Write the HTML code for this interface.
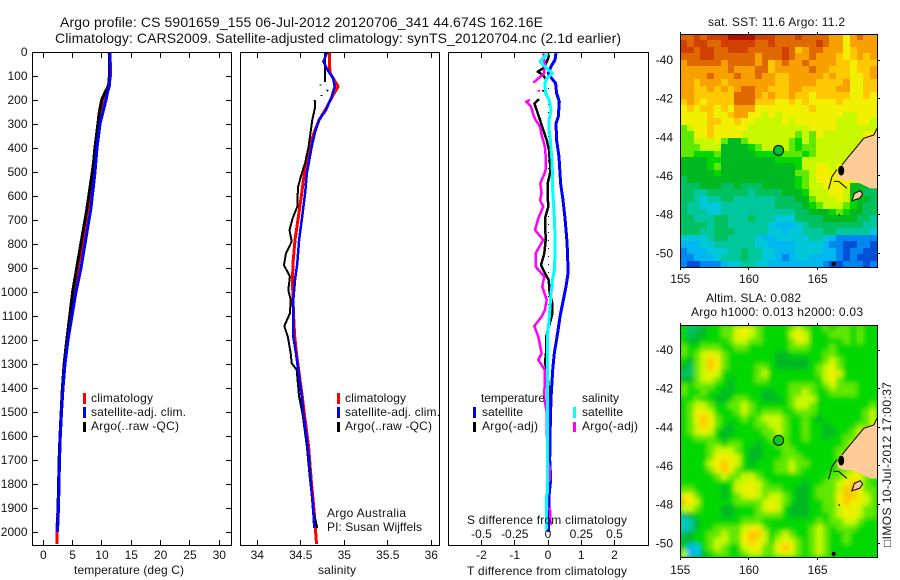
<!DOCTYPE html>
<html lang="en">
<head>
<meta charset="utf-8">
<title>Argo profile chart</title>
<style>
html,body{margin:0;padding:0;background:#fff;}
svg{display:block;font-family:"Liberation Sans",sans-serif;font-size:12px;fill:#000;}
text{fill:#111;}
</style>
</head>
<body>
<svg id="chart" xmlns="http://www.w3.org/2000/svg" width="900" height="580" viewBox="0 0 900 580">
  <defs>
    <filter id="soften" x="0" y="0" width="1" height="1"><feGaussianBlur stdDeviation="2.4"/></filter>
  </defs>
  <rect width="900" height="580" fill="#fff"/>
  <g id="heat" shape-rendering="crispEdges"></g>
  <rect x="680" y="325" width="197" height="232" fill="#00d800"/>
  <g id="heat2" shape-rendering="crispEdges" filter="url(#soften)"></g>
  <g id="geo"></g>
  <g id="marks" shape-rendering="crispEdges" fill="none"></g>
  <g id="frames" shape-rendering="crispEdges"></g>

  <text x="60" y="27" font-size="14" textLength="483" lengthAdjust="spacing">Argo profile: CS 5901659_155 06-Jul-2012 20120706_341 44.674S 162.16E</text>
  <text x="55" y="43" font-size="14" textLength="566" lengthAdjust="spacing">Climatology: CARS2009. Satellite-adjusted climatology: synTS_20120704.nc (2.1d earlier)</text>

  <text x="74" y="574" textLength="110" lengthAdjust="spacing">temperature (deg C)</text>
  <text x="318" y="574" textLength="38" lengthAdjust="spacing">salinity</text>
  <text x="467" y="575" textLength="160" lengthAdjust="spacing">T difference from climatology</text>
  <text x="467" y="524" textLength="160" lengthAdjust="spacing">S difference from climatology</text>

  <g shape-rendering="crispEdges">
    <rect x="83" y="393" width="3" height="11" fill="#f00"/>
    <rect x="83" y="407" width="3" height="11" fill="#00f"/>
    <rect x="83" y="422" width="3" height="10" fill="#000"/>
    <text x="91" y="402" textLength="62" lengthAdjust="spacing">climatology</text>
    <text x="91" y="416" textLength="95" lengthAdjust="spacing">satellite-adj. clim.</text>
    <text x="91" y="430" textLength="88" lengthAdjust="spacing">Argo(..raw -QC)</text>
  </g>
  <g shape-rendering="crispEdges">
    <rect x="337" y="393" width="3" height="11" fill="#f00"/>
    <rect x="337" y="407" width="3" height="11" fill="#00f"/>
    <rect x="337" y="422" width="3" height="10" fill="#000"/>
    <text x="345" y="402" textLength="61" lengthAdjust="spacing">climatology</text>
    <text x="345" y="416" textLength="95" lengthAdjust="spacing">satellite-adj. clim.</text>
    <text x="345" y="430" textLength="87" lengthAdjust="spacing">Argo(..raw -QC)</text>
  </g>
  <text x="327" y="517" textLength="79" lengthAdjust="spacing">Argo Australia</text>
  <text x="327" y="531" textLength="95" lengthAdjust="spacing">PI: Susan Wijffels</text>

  <g shape-rendering="crispEdges">
    <text x="481" y="402" textLength="64" lengthAdjust="spacing">temperature</text>
    <text x="582" y="402" textLength="37" lengthAdjust="spacing">salinity</text>
    <rect x="473" y="407" width="3" height="11" fill="#00f"/>
    <rect x="473" y="422" width="3" height="10" fill="#000"/>
    <rect x="573" y="407" width="3" height="11" fill="#0ff"/>
    <rect x="573" y="422" width="3" height="10" fill="#f0f"/>
    <text x="482" y="416" textLength="41" lengthAdjust="spacing">satellite</text>
    <text x="482" y="430" textLength="56" lengthAdjust="spacing">Argo(-adj)</text>
    <text x="582" y="416" textLength="41" lengthAdjust="spacing">satellite</text>
    <text x="582" y="430" textLength="56" lengthAdjust="spacing">Argo(-adj)</text>
  </g>

  <text x="708" y="26" textLength="137" lengthAdjust="spacing">sat. SST: 11.6 Argo: 11.2</text>
  <text x="706" y="302" textLength="95" lengthAdjust="spacing">Altim. SLA: 0.082</text>
  <text x="691" y="316" textLength="172" lengthAdjust="spacing">Argo h1000: 0.013 h2000: 0.03</text>
  <text transform="translate(891,547) rotate(-90)" x="0" y="0" textLength="165" lengthAdjust="spacing">□IMOS 10-Jul-2012 17:00:37</text>
</svg>

<script>
/* ---------- temperature panel data ---------- */
const tempDepths = [0,50,100,140,160,180,200,250,300,350,400,450,500,550,600,650,700,800,900,1000,1100,1200,1300,1400,1500,1600,1700,1800,1900,2000,2050];
const tempClim = [11.2,11.45,11.45,11.05,10.75,10.5,10.2,9.75,9.4,9.2,8.85,8.7,8.45,8.15,7.9,7.6,7.3,6.6,5.9,5.2,4.6,4.1,3.65,3.35,3.1,2.9,2.75,2.65,2.5,2.3,2.3];
const tempArgo = [11.25,11.25,11.25,11.2,10.7,10.3,9.95,9.55,9.3,9.05,8.8,8.6,8.35,8.05,7.75,7.45,7.1,6.4,5.7,5.0,4.5,4.0,3.55,3.25,3.05,2.85,2.7,2.6,2.5,2.4];
const tempSat = [11.37,11.37,11.37,11.28,11.03,10.86,10.69,10.18,9.66,9.41,9.15,8.98,8.81,8.59,8.35,8.13,7.79,7.11,6.43,5.57,4.89,4.21,3.70,3.36,3.10,2.90,2.76,2.68,2.59,2.42];

/* ---------- salinity panel data ---------- */
const salClimDepths = [0,60,90,120,144,180,242,283,339,394,505,589,692,783,880,950,1033,1117,1186,1256,1325,1436,1506,1645,1783,1921,2050];
const salClim = [34.83,34.83,34.84,34.89,34.93,34.87,34.78,34.71,34.65,34.6,34.54,34.51,34.47,34.433,34.41,34.405,34.41,34.42,34.43,34.45,34.476,34.517,34.54,34.59,34.62,34.655,34.68];
const salArgoDepths = [0,124,124,135,140,140,158,163,163,179,184,184,200,228,283,339,394,463,519,561,617,644,692,742,790,838,888,936,992,1033,1089,1142,1186,1256,1297,1325,1436,1506,1645,1783,1921,1983];
const salArgo = [34.78,34.78,null,34.729,34.729,null,34.81,34.80,null,34.74,34.74,null,34.66,34.665,34.632,34.61,34.59,34.55,34.5,34.47,34.46,34.46,34.407,34.37,34.395,34.33,34.307,34.375,34.356,34.384,34.375,34.31,34.35,34.384,34.395,34.453,34.48,34.52,34.57,34.606,34.65,34.69];
const salSatDepths = [0,40,82,108,144,186,242,283,339,394,505,589,692,783,880,950,1033,1117,1186,1256,1325,1436,1506,1645,1783,1921,1983];
const salSat = [34.805,34.76,34.82,34.87,34.89,34.855,34.79,34.71,34.66,34.625,34.57,34.55,34.514,34.48,34.46,34.433,34.414,34.41,34.414,34.445,34.47,34.51,34.53,34.58,34.614,34.645,34.655];

/* ---------- difference panel data ---------- */
const diffTSatDepths = [5,33,61,89,110,130,172,207,269,297,367,436,547,617,693,769,839,922,978,1033,1103,1172,1256,1325,1443,1550,1700,1780,1850,2000];
const diffTSat = [.24,.21,.09,.01,.11,.23,.26,.34,.31,.24,.26,.33,.38,.45,.51,.56,.59,.60,.54,.46,.36,.29,.19,.14,.09,.07,.05,.08,.03,.02];
const diffTArgoDepths = [5,26,47,68,82,96,117,117,158,165,165,197,214,242,283,325,367,408,464,506,547,603,644,693,783,839,888,922,950,1006,1047,1089,1117,1151,1186,1256,1297,1325,1443,1550,1850,1990];
const diffTArgo = [.03,.01,-.06,-.14,-.31,-.16,-.04,null,-.14,-.14,null,-.27,-.41,-.34,-.24,-.14,-.04,.03,.06,.06,-.01,-.01,.01,-.09,-.07,-.11,-.21,-.09,.02,.05,.13,.13,.08,.01,-.05,-.06,-.09,-.03,.05,.02,.01,0];
const diffSSatDepths = [5,19,40,61,89,110,130,172,200,242,283,325,367,436,506,575,693,769,839,908,950,1006,1061,1117,1186,1256,1325,1443,1832,1850,1990];
const diffSSat = [.015,-.023,-.06,-.023,.033,-.01,-.023,-.018,.008,.023,.008,.008,.018,.028,.033,.035,.048,.053,.053,.048,.033,.023,.015,.008,-.005,-.005,-.003,-.003,-.003,-.01,-.01];
const diffSArgoDepths = [5,33,61,89,110,128,128,158,165,165,200,207,228,262,283,311,346,394,450,492,519,547,589,617,644,693,742,783,839,894,936,978,1033,1075,1103,1142,1186,1256,1283,1325,1443,1500,1700,1728,1783,1800,1900,1908,1971];
const diffSArgo = [-.035,-.028,-.023,-.03,-.073,-.11,null,-.073,-.068,null,-.135,-.165,-.128,-.11,-.093,-.06,-.048,-.023,-.015,-.018,-.035,-.058,-.048,-.06,-.035,-.073,-.098,-.035,-.093,-.093,-.028,-.043,-.01,-.023,-.048,-.103,-.073,-.048,-.073,-.023,-.028,-.01,-.005,.012,.012,-.005,-.005,.015,.02];

/* ---------- tick labels ---------- */
const depthTicks = [0,100,200,300,400,500,600,700,800,900,1000,1100,1200,1300,1400,1500,1600,1700,1800,1900,2000];
const tempTicks = [0,5,10,15,20,25,30];
const salTicks = [34,34.5,35,35.5,36];
const diffTTicks = [-2,-1,0,1,2];
const diffSTicks = [-0.5,-0.25,0,0.25,0.5];
const lonTicks = [155,160,165];
const latTicks = [-40,-42,-44,-46,-48,-50];

/* ---------- maps: colour level per cell (hex digit 0-f), north to south ---------- */
const sstRows = [
"ddedeeeffffeeedddeddddccacdcc",
"edeeddeeeeeddeddddddedccacccc",
"eedeeddeeedddddedbcddcccabccc",
"dddeeddddddcdddedccdcccbabcbc",
"cdddddcddddcdbcdccdccccbbabbb",
"cccccccdcccddbcccccdccbbbabbc",
"ccccdcccdccdccbbcccccbcbbaabc",
"ccbcccbcccccccbbccccbbbbcaabb",
"ccbbcbcbcddccbbbccbbbbbccaabb",
"ccbbbbbbdddcbcbbcbbabbbbbaaba",
"bcbabbbbdddbbbaababaaaabaaaaa",
"ababbabacccaaaaaaaabaaaaaaaaa",
"aaaabaabccaa9a9aaaaaaaaa99aaa",
"aaaabbaabaa9999a9aaaaaa999aa9",
"89aabaaaaa999999999aaaa999999",
"88aabaaaa99999999898a999999aa",
"88999a866899999987989999999aa",
"888999666678999987889999999a9",
"88777866666777788878999999999",
"66667766666666777799999999999",
"66667866666666666799aa9aaaaaa",
"66666766666666666889aaaaaaaaa",
"56666666666666666789aaaaaaaaa",
"555666556555666667899aaaa6666",
"5544555555455556667999aa96655",
"55434455444444555668999a97665",
"54433344444444555567899987655",
"54443344444444444556667876655",
"55444554445444333555566666554",
"55554554444443222345555555544",
"55544555444443323344455444443",
"33334554444322333334432111111",
"22233444444332222333321100110",
"12223334454433222333322101100",
"11222344454433212332222101000",
"10011123344332222222210011101"
];
const slaRows = [
"755677889a9877778987787887877",
"75667788aa9877779a97778887877",
"76677778998877778a97777787877",
"87788877887777778887778777777",
"8789a9877777776677 7778877777".replace(" ","")+"7",
"7689ba87777777666667789877777",
"6589ba8777788766666789a877777",
"5589a97777789777777789a977777",
"66899876777887777777 79a877777".replace(" ",""),
"87888776777777778888789888777",
"87787766777766778898778888777",
"77877667887766678999777777777",
"78998778898777778998777777778",
"78aa97778987888778887777777 89".replace(" ",""),
"78aba87778789998778767777 7789".replace(" ",""),
"789ba8767778899877877677 77889".replace(" ",""),
"789a97667777889877877667 78999".replace(" ",""),
"77888767777778887787767788999",
"77778878877677887777777789999",
"77778999876677788777777889999",
"77778aaa976677788877777899999",
"77779aba976777889887777889999",
"77778aba877777889877777889999",
"7777789889987777777777889aa889".slice(0,29),
"777777779 9a9877777677889ab98".replace(" ",""),
"887777679aa9888776678889bba88",
"aa87776789a989987667888abba98",
"ba97777788889a987667788abaa98",
"9987776677789a9766677889aa988",
"567777667778888766677789aa988",
"34677777788877777777878899877",
"3467788889aa87777778987888777",
"567788988abb97898778987787777",
"667789988aba979a9878987787777",
"7237898779aa88aba878987777777",
"922678877899889a9878987777777"
];
const palette = ["#0050d8","#0088f0","#00b8f0","#00c8d8","#00c89c","#00c060","#00b820","#00d800","#60e800","#c8f800","#f0f000","#ffc800","#f8a000","#e06800","#d04000","#b01000"];

/* ---------- map geography in lon / lat ---------- */
const coastLon = [169.38,169.09,168.36,167.87,167.26,166.78,166.41,166.53,167.02,167.51,168.36,168.84,169.38];
const coastLat = [-43.48,-43.88,-44.05,-44.48,-45.0,-45.43,-45.86,-46.12,-46.21,-46.21,-46.47,-46.64,-46.64];
const fiordLon = [166.41,166.05,165.8];
const fiordLat = [-45.66,-46.03,-46.69];
const inletLon = [166.17,166.53,167.14];
const inletLat = [-46.28,-46.28,-46.64];
const islandLon = [167.5,167.68,168.1,168.28,168.05];
const islandLat = [-47.28,-46.9,-46.76,-46.93,-47.16];
const profileLon = 162.16;
const profileLat = -44.674;

/* ---------- axis functions ---------- */
const yD = d => 52 + 0.24 * d;
const xT = t => 43.3 + 5.867 * t;
const xS = s => 257.3 + 87 * (s - 34);
const xDT = t => 548 + 33.25 * t;
const xDS = s => 548 + 133 * s;
const xLon = lon => 680.3 + 13.73 * (lon - 155);
const yLat = (lat, y40) => y40 + 19.33 * (-40 - lat);

const NS = 'http://www.w3.org/2000/svg';
const heat = document.getElementById('heat');
const heat2 = document.getElementById('heat2');
const geo = document.getElementById('geo');
const marks = document.getElementById('marks');
const frames = document.getElementById('frames');

function make(tag, attrs, parent) {
  const el = document.createElementNS(NS, tag);
  for (const k in attrs) el.setAttribute(k, attrs[k]);
  parent.appendChild(el);
  return el;
}
function profilePath(depths, vals, xf) {
  let d = '', pen = false;
  vals.forEach((v, i) => {
    if (v === null) { pen = false; return; }
    d += (pen ? 'L' : 'M') + xf(v).toFixed(1) + ' ' + yD(depths[i]).toFixed(1);
    pen = true;
  });
  return d;
}
function drawSeries(depths, vals, xf, color, width, name) {
  const el = make('path', {d: profilePath(depths, vals, xf), stroke: color, 'stroke-width': width, 'stroke-linejoin': 'round'}, marks);
  
  
}

/* reference zero line in the difference panel */
const zeroLine = make('line', {x1: xDT(0)+.5, x2: xDT(0)+.5, y1: yD(150), y2: yD(1300), stroke: '#000', 'stroke-width': 1, 'stroke-dasharray': '1 7'}, marks);



drawSeries(tempDepths, tempClim, xT, '#f00', 3, 'temperature-climatology-line');
drawSeries(tempDepths, tempArgo, xT, '#000', 3, 'temperature-argo-line');
drawSeries(tempDepths, tempSat, xT, '#00f', 3, 'temperature-satellite-line');

drawSeries(salClimDepths, salClim, xS, '#f00', 3, 'salinity-climatology-line');
drawSeries(salArgoDepths, salArgo, xS, '#000', 2, 'salinity-argo-line');
drawSeries(salSatDepths, salSat, xS, '#00f', 2.5, 'salinity-satellite-line');

drawSeries(diffTArgoDepths, diffTArgo, xDT, '#000', 2.5, 't-difference-argo-line');
drawSeries(diffTSatDepths, diffTSat, xDT, '#00f', 3, 't-difference-satellite-line');
drawSeries(diffSArgoDepths, diffSArgo, xDS, '#f0f', 2.5, 's-difference-argo-line');
drawSeries(diffSSatDepths, diffSSat, xDS, '#0ff', 3, 's-difference-satellite-line');

/* heatmaps */
const mapLeft = 680, mapRight = 877;
function drawHeat(rows, top, bottom, parent) {
  const cols = 29, n = rows.length;
  rows.forEach((row, r) => {
    const y0 = Math.round(top + (bottom - top) * r / n);
    const y1 = Math.round(top + (bottom - top) * (r + 1) / n);
    for (let c = 0; c < cols; c++) {
      const level = parseInt(row[c] || '7', 16);
      const x0 = Math.round(mapLeft + (mapRight - mapLeft) * c / cols);
      const x1 = Math.round(mapLeft + (mapRight - mapLeft) * (c + 1) / cols);
      const cell = make('rect', {x: x0, y: y0, width: x1 - x0, height: y1 - y0, fill: palette[level]}, parent);
      
      
    }
  });
}
drawHeat(sstRows, 34, 267, heat);
drawHeat(slaRows, 325, 557, heat2);

/* geography */
function polyD(lons, lats, y40, close) {
  return lons.map((lon, i) => (i ? 'L' : 'M') + xLon(lon).toFixed(1) + ' ' + yLat(lats[i], y40).toFixed(1)).join('') + (close ? 'Z' : '');
}
function drawGeo(y40, suffix) {
  const land = make('path', {d: polyD(coastLon, coastLat, y40, true), fill: '#ffcc99', stroke: 'none'}, geo);
  
  
  const coast = make('path', {d: polyD(coastLon.slice(0, 6), coastLat.slice(0, 6), y40, false), fill: 'none', stroke: '#000', 'stroke-width': 1}, geo);
  
  
  const fiord = make('path', {d: polyD(fiordLon, fiordLat, y40, false), fill: 'none', stroke: '#000', 'stroke-width': 1}, geo);
  
  
  const inlet = make('path', {d: polyD(inletLon, inletLat, y40, false), fill: 'none', stroke: '#000', 'stroke-width': 1}, geo);
  
  
  const island = make('path', {d: polyD(islandLon, islandLat, y40, true), fill: '#ffcc99', stroke: '#000', 'stroke-width': 1}, geo);
  
  
  const blob = make('ellipse', {cx: xLon(166.72), cy: yLat(-45.72, y40), rx: 3, ry: 5, fill: '#000'}, geo);
  
  
  const speck = make('circle', {cx: xLon(166.17), cy: yLat(-50.55, y40), r: 2, fill: '#000'}, geo);
  
  
  const dot = make('circle', {cx: xLon(166.58), cy: yLat(-48.02, y40), r: 0.8, fill: '#000'}, geo);
  
  
  const marker = make('circle', {cx: xLon(profileLon), cy: yLat(profileLat, y40), r: 5, fill: suffix === 'sst' ? '#00c030' : '#10c820', stroke: '#000', 'stroke-width': 1}, geo);
  
  
}
drawGeo(60, 'sst');
drawGeo(350, 'sla');

/* frames, ticks and tick labels */
function snap(v) { return Math.floor(v) + 0.5; }
function drawFrame(x0, y0, x1, y1) {
  const box = make('rect', {x: x0 + .5, y: y0 + .5, width: x1 - x0, height: y1 - y0, fill: 'none', stroke: '#000', 'stroke-width': 1}, frames);
  
  
}
function tick(x1, y1, x2, y2) {
  const t = make('line', {x1: x1, y1: y1, x2: x2, y2: y2, stroke: '#000', 'stroke-width': 1}, frames);
  
  
}
function label(x, y, str, anchor) {
  const t = make('text', {x: x, y: y, 'text-anchor': anchor}, frames);
  t.textContent = str;
  
  
}
const panelTop = 52, panelBottom = 545;

drawFrame(32, panelTop, 231, panelBottom);
drawFrame(240, panelTop, 439, panelBottom);
drawFrame(448, panelTop, 648, panelBottom);
drawFrame(680, 34, 877, 267);
drawFrame(680, 325, 877, 557);

depthTicks.forEach(d => {
  const y = snap(yD(d));
  if (d > 0) {
    tick(32, y, 38, y);
    tick(226, y, 231, y);
  }
  label(27.5, yD(d) + 4, String(d), 'end');
});
function xAxis(values, xf) {
  values.forEach(v => {
    const x = snap(xf(v));
    tick(x, panelTop, x, panelTop + 6);
    tick(x, panelBottom, x, panelBottom - 5);
  });
}
xAxis(tempTicks, xT);
xAxis(salTicks, xS);
xAxis(diffTTicks, xDT);
tempTicks.forEach(v => label(xT(v), 559, String(v), 'middle'));
salTicks.forEach(v => label(xS(v), 559, String(v), 'middle'));
diffTTicks.forEach(v => label(xDT(v), 559, String(v), 'middle'));
diffSTicks.forEach(v => label(xDS(v), 538, String(v), 'middle'));

function mapAxes(top, bottom, y40, labelY) {
  lonTicks.forEach(lon => {
    const x = snap(xLon(lon));
    tick(x, top - 2, x, top);
    tick(x, bottom, x, bottom + 3);
    label(xLon(lon), labelY, String(lon), 'middle');
  });
  latTicks.forEach(lat => {
    const y = snap(yLat(lat, y40));
    tick(877, y, 880, y);
    label(673, yLat(lat, y40) + 4, String(lat), 'end');
  });
}
mapAxes(34, 267, 60, 283);
mapAxes(325, 557, 350, 574);
</script>
</body>
</html>
